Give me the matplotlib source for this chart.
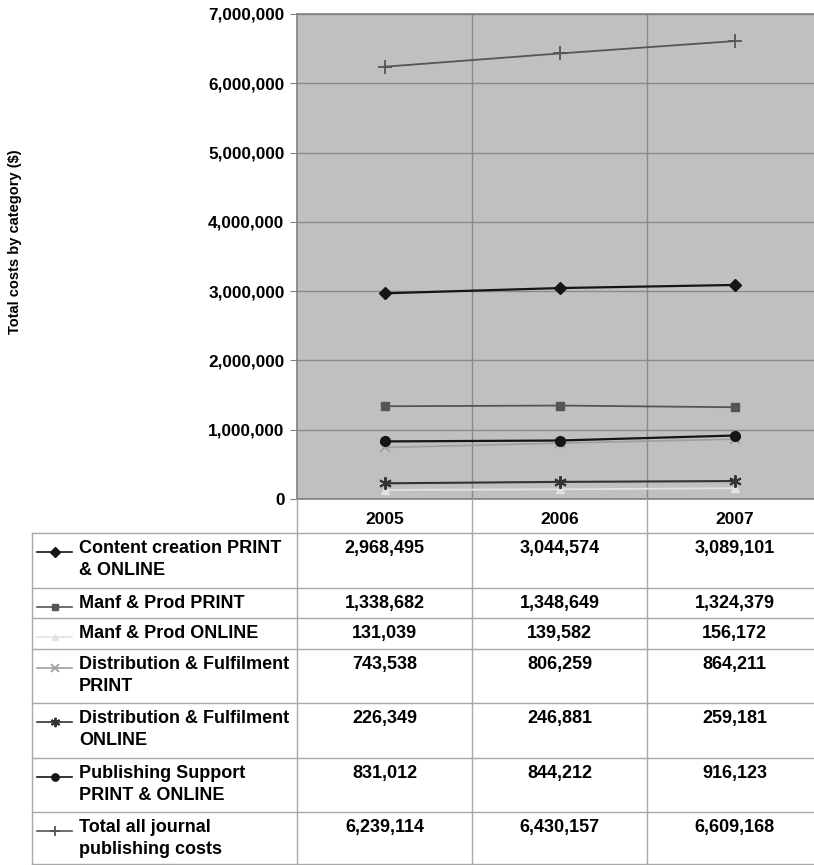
import matplotlib
matplotlib.use("Agg")
import matplotlib.pyplot as plt
import matplotlib.transforms as mtransforms
from matplotlib.lines import Line2D
from matplotlib.ticker import FuncFormatter, MultipleLocator

plt.rcParams['font.family'] = ['Liberation Sans', 'DejaVu Sans']
plt.rcParams['font.weight'] = 'bold'

years = ["2005", "2006", "2007"]
series_names = [
    "Content creation PRINT\n& ONLINE",
    "Manf & Prod PRINT",
    "Manf & Prod ONLINE",
    "Distribution & Fulfilment\nPRINT",
    "Distribution & Fulfilment\nONLINE",
    "Publishing Support\nPRINT & ONLINE",
    "Total all journal\npublishing costs",
]
content_creation = [2968495, 3044574, 3089101]
manf_prod_print = [1338682, 1348649, 1324379]
manf_prod_online = [131039, 139582, 156172]
dist_print = [743538, 806259, 864211]
dist_online = [226349, 246881, 259181]
publishing_support = [831012, 844212, 916123]
total_costs = [6239114, 6430157, 6609168]
series_values = [content_creation, manf_prod_print, manf_prod_online,
                 dist_print, dist_online, publishing_support, total_costs]

styles = [
    dict(color="#151515", marker="D", ms=6.5, lw=1.6, mfc="#151515", mec="#151515"),
    dict(color="#555555", marker="s", ms=6, lw=1.3, mfc="#555555", mec="#555555"),
    dict(color="#e2e2e2", marker="^", ms=6, lw=1.3, mfc="#e2e2e2", mec="#e2e2e2"),
    dict(color="#a0a0a0", marker="x", ms=7, lw=1.3, mfc="#a0a0a0", mec="#a0a0a0", mew=1.3),
    dict(color="#333333", marker=(6, 2, 0), ms=9, lw=1.5, mfc="#333333", mec="#333333", mew=1.4),
    dict(color="#151515", marker="o", ms=7, lw=1.6, mfc="#151515", mec="#151515"),
    dict(color="#555555", marker="+", ms=10, lw=1.3, mfc="#555555", mec="#555555", mew=1.3),
]

W, H = 814, 865
fig = plt.figure(figsize=(W / 100, H / 100), dpi=100)

def fx(px):
    return px / W

def fy(py):
    return 1 - py / H

ax_left, ax_top, ax_bottom = 297, 14, 499
colw = 175.0
ax = fig.add_axes([fx(ax_left), fy(ax_bottom), fx(W - ax_left), (ax_bottom - ax_top) / H])
ax.set_facecolor("#c0c0c0")
xs = list(range(len(years)))
for vals, st in zip(series_values, styles):
    ax.plot(xs, vals, zorder=3, **st)

ax.set_xlim(-0.5, -0.5 + (W - ax_left) / colw)
ax.set_ylim(0, 7000000)
ax.yaxis.set_major_locator(MultipleLocator(1000000))
ax.yaxis.set_major_formatter(FuncFormatter(lambda v, p: f"{int(v):,}"))
ax.set_xticks(xs)
ax.set_xticklabels(years, fontsize=12.5, fontweight="bold")
ax.set_xticks([0.5, 1.5], minor=True)
ax.tick_params(axis="x", which="both", length=0, pad=9)
ax.tick_params(axis="y", length=5, color="#808080", labelsize=12.3, pad=4)
for lab in ax.get_yticklabels():
    lab.set_fontweight("bold")
ax.grid(True, axis="y", color="#8a8a8a", lw=1)
ax.grid(True, axis="x", which="minor", color="#8a8a8a", lw=1)
ax.set_axisbelow(True)
for s in ["left", "top", "bottom"]:
    ax.spines[s].set_color("#808080")
    ax.spines[s].set_linewidth(1.2)
ax.spines["right"].set_visible(False)

fig.text(fx(15), fy(242), "Total costs by category ($)", rotation=90, ha="center",
         va="center", fontsize=10.5, fontweight="bold")

# ---- data table ----
blend = mtransforms.blended_transform_factory(ax.transData, fig.transFigure)
grid_c = "#a8a8a8"
row_tops = [533, 588, 618, 649, 703, 758, 812]
row_bottom_end = 865
tab_left = 32

for xb in [-0.5, 0.5, 1.5]:
    fig.add_artist(Line2D([xb, xb], [fy(ax_bottom), fy(row_bottom_end)], transform=blend,
                          color=grid_c, lw=1))
fig.add_artist(Line2D([fx(tab_left), fx(tab_left)], [fy(row_tops[0]), fy(row_bottom_end)],
                      transform=fig.transFigure, color=grid_c, lw=1))
for rt in row_tops + [row_bottom_end - 1]:
    fig.add_artist(Line2D([fx(tab_left), 1], [fy(rt), fy(rt)], transform=fig.transFigure,
                          color=grid_c, lw=1))

for i, (name, vals, st) in enumerate(zip(series_names, series_values, styles)):
    rt = row_tops[i]
    my = fy(rt + 19)
    fig.add_artist(Line2D([fx(37), fx(72)], [my, my], transform=fig.transFigure,
                          color=st["color"], lw=1.2))
    fig.add_artist(Line2D([fx(54.5)], [my], transform=fig.transFigure, color=st["color"],
                          marker=st["marker"], ms=st["ms"] * 0.75, mfc=st["mfc"], mec=st["mec"],
                          mew=st.get("mew", 1.0), lw=0))
    fig.text(fx(79), fy(rt + 7), name, ha="left", va="top", fontsize=13,
             fontweight="bold", linespacing=1.38)
    for j, v in enumerate(vals):
        fig.text(j, fy(rt + 7), f"{v:,}", transform=blend, ha="center", va="top",
                 fontsize=13, fontweight="bold")

fig.savefig("out.png", dpi=100)
